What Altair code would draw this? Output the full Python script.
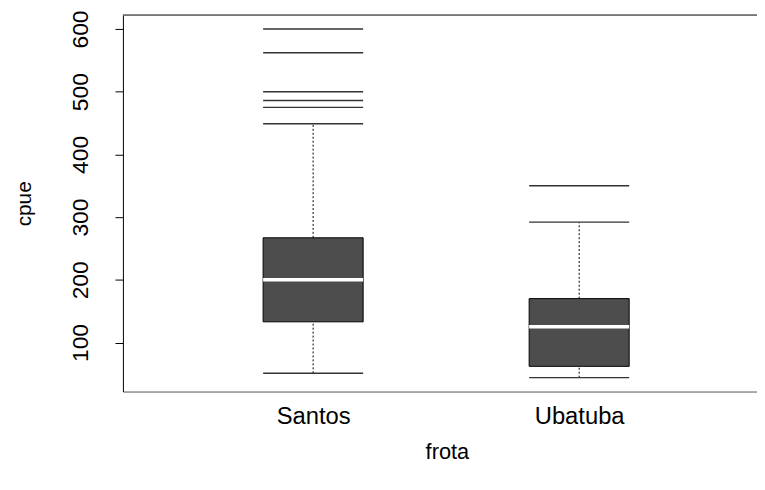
import altair as alt
import pandas as pd

# ---- data ----
groups = ["Santos", "Ubatuba"]
positions = [1, 2]
lower_whisker = [51, 44]
q1 = [133, 62]
median = [200, 125]
q3 = [267, 170]
upper_whisker = [449, 292]
outlier_group = ["Santos", "Santos", "Santos", "Santos", "Santos", "Ubatuba"]
outlier_value = [600, 562, 500, 486, 475, 350]

HALF = 0.188  # half box width in x units
FONT = "Liberation Sans"

box_df = pd.DataFrame({
    "group": groups, "pos": positions, "lower": lower_whisker, "q1": q1,
    "median": median, "q3": q3, "upper": upper_whisker,
})
pos_map = dict(zip(groups, positions))
out_df = pd.DataFrame({"group": outlier_group, "value": outlier_value})
out_df["pos"] = out_df["group"].map(pos_map)

xscale = alt.Scale(domain=[0.285, 2.6685], nice=False, zero=False)
yscale = alt.Scale(domain=[21.8, 622.2], nice=False, zero=False)

label_expr = " : ".join(
    [f"datum.value == {p} ? '{g}'" for p, g in zip(positions, groups)]
) + " : ''"

xaxis = alt.Axis(
    values=positions, labelExpr=label_expr, ticks=False, tickSize=0,
    labelPadding=32, labelBaseline="alphabetic", labelFontSize=24,
    labelFont=FONT, labelColor="black", title="frota", titleFont=FONT,
    titleFontSize=22, titleFontWeight="normal", titleColor="black",
    titleX=327, titleY=68, titleAlign="center", titleBaseline="alphabetic",
    domainColor="#555555", grid=False,
)
yaxis = alt.Axis(
    values=[100, 200, 300, 400, 500, 600], tickSize=8, tickColor="black",
    labelAngle=270, labelAlign="center", labelBaseline="alphabetic",
    labelPadding=28, labelFontSize=23, labelFont=FONT, labelColor="black",
    title="cpue", titleFont=FONT, titleFontSize=21, titleFontWeight="normal",
    titleColor="black", titleAngle=270, titleX=-93, titleY=190,
    titleAlign="center", titleBaseline="alphabetic",
    domainColor="black", grid=False,
)


def X(field):
    return alt.X(field, type="quantitative", scale=xscale, axis=xaxis, title="frota")


def Y(field):
    return alt.Y(field, type="quantitative", scale=yscale, axis=yaxis, title="cpue")


base = alt.Chart(box_df).transform_calculate(
    xl=f"datum.pos - {HALF}", xr=f"datum.pos + {HALF}"
)

whisk_up = base.mark_rule(color="black", strokeWidth=1, strokeDash=[2, 2]).encode(
    x=X("pos"), y=Y("q3"), y2="upper")
whisk_lo = base.mark_rule(color="black", strokeWidth=1, strokeDash=[2, 2]).encode(
    x=X("pos"), y=Y("lower"), y2="q1")
cap_up = base.mark_rule(color="#333333", strokeWidth=1.5).encode(
    x=X("xl"), x2="xr", y=Y("upper"))
cap_lo = base.mark_rule(color="#333333", strokeWidth=1.5).encode(
    x=X("xl"), x2="xr", y=Y("lower"))
boxes = base.mark_rect(fill="#4d4d4d", stroke="black", strokeWidth=1).encode(
    x=X("xl"), x2="xr", y=Y("q1"), y2="q3")
meds = base.mark_rule(color="white", strokeWidth=3.5).encode(
    x=X("xl"), x2="xr", y=Y("median"))
outs = alt.Chart(out_df).transform_calculate(
    xl=f"datum.pos - {HALF}", xr=f"datum.pos + {HALF}"
).mark_rule(color="#333333", strokeWidth=1.5).encode(
    x=X("xl"), x2="xr", y=Y("value"))
top_line = alt.Chart(box_df).mark_rule(color="#555555", strokeWidth=1).encode(
    y=alt.value(0))

chart = alt.layer(
    whisk_up, whisk_lo, cap_up, cap_lo, boxes, meds, outs, top_line
).properties(
    width=640, height=380,
    autosize=alt.AutoSizeParams(type="none"),
    padding={"left": 116, "top": 5, "right": 0, "bottom": 72},
    background="white",
).configure_view(stroke=None)

chart.save("out.html", embed_options={"renderer": "svg", "actions": False})
